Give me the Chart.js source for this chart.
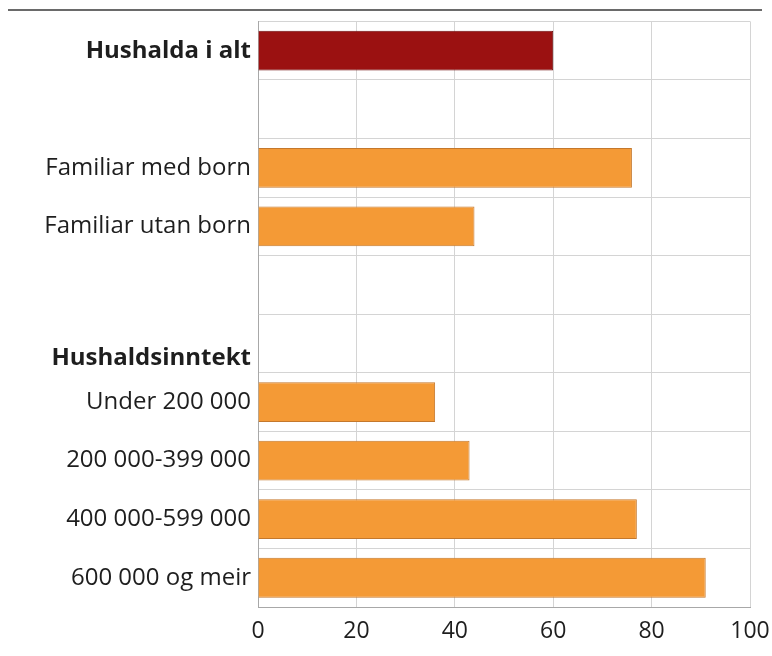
<!DOCTYPE html>
<html>
<head>
<meta charset="utf-8">
<script src="https://cdn.jsdelivr.net/npm/chart.js@4"></script>
<style>
  html, body { margin: 0; padding: 0; background: #fff; }
  #wrap { width: 772px; height: 656px; position: relative; }
</style>
</head>
<body>
<div id="wrap"><canvas id="chart"></canvas></div>
<script>
// Categories (empty strings are spacer rows)
const categories = [
  'Hushalda i alt',
  '',
  'Familiar med born',
  'Familiar utan born',
  '',
  ['', 'Hushaldsinntekt'],
  'Under 200 000',
  '200 000-399 000',
  '400 000-599 000',
  '600 000 og meir'
];

// Percent values
const values = [60, null, 76, 44, null, null, 36, 43, 77, 91];

// Rows that carry bold labels / the highlighted bar
const boldRows = [0, 5];
const totalRow = 0;

const xTicks = [0, 20, 40, 60, 80, 100];

const COLORS = {
  total: '#9b1111',
  totalBorder: '#6e0b0b',
  bar: '#f49a36',
  barBorder: '#c4782c',
  grid: '#d4d4d4',
  axis: '#a8a8a8',
  text: '#1e1e1e',
  rule: '#6a6a6a'
};

const FONT = '"Open Sans", "Noto Sans", sans-serif';

// Thin rule across the top of the figure
const topRule = {
  id: 'topRule',
  beforeDraw(chart) {
    const ctx = chart.ctx;
    ctx.save();
    ctx.strokeStyle = COLORS.rule;
    ctx.lineWidth = 2;
    ctx.beginPath();
    ctx.moveTo(8, 10);
    ctx.lineTo(762, 10);
    ctx.stroke();
    ctx.restore();
  }
};

new Chart(document.getElementById('chart'), {
  type: 'bar',
  data: {
    labels: categories,
    datasets: [{
      data: values,
      backgroundColor: values.map((_, i) => i === totalRow ? COLORS.total : COLORS.bar),
      borderColor: values.map((_, i) => i === totalRow ? COLORS.totalBorder : COLORS.barBorder),
      borderWidth: 1,
      barPercentage: 0.68,
      categoryPercentage: 1
    }]
  },
  options: {
    indexAxis: 'y',
    responsive: true,
    maintainAspectRatio: false,
    animation: false,
    layout: { padding: { top: 20, right: 22, left: 0, bottom: 0 } },
    plugins: {
      legend: { display: false },
      tooltip: { enabled: false }
    },
    scales: {
      x: {
        min: 0,
        max: 100,
        afterBuildTicks: scale => { scale.ticks = xTicks.map(v => ({ value: v })); },
        afterFit: scale => {
          scale.height = 49;
          scale.paddingLeft = 0;
          scale.paddingRight = 0;
        },
        grid: { color: COLORS.grid, drawTicks: false, lineWidth: 1 },
        border: { color: COLORS.axis },
        ticks: {
          color: COLORS.text,
          padding: 11,
          font: { family: FONT, size: 23 }
        }
      },
      y: {
        afterFit: scale => { scale.width = 258; },
        grid: { color: COLORS.grid, drawTicks: false, offset: true, lineWidth: 1 },
        border: { color: COLORS.axis },
        ticks: {
          color: COLORS.text,
          padding: 7,
          autoSkip: false,
          font: ctx => ({
            family: FONT,
            size: 24,
            weight: boldRows.includes(ctx.index) ? 'bold' : 'normal'
          })
        }
      }
    }
  },
  plugins: [topRule]
});
</script>
</body>
</html>
